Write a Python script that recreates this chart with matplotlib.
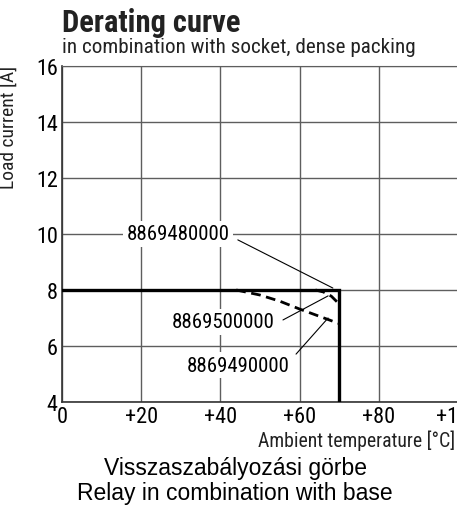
import matplotlib
matplotlib.use("Agg")
import matplotlib.pyplot as plt

# derating curve data
temp_solid = [0, 70, 70]
load_solid = [8, 8, 4]

temp_dash_a = [44, 50, 55, 60, 65, 70]
load_dash_a = [8.0, 7.82, 7.6, 7.32, 7.06, 6.8]

temp_dash_b = [64, 66, 68, 70]
load_dash_b = [8.0, 7.93, 7.78, 7.5]

x_ticks = [0, 20, 40, 60, 80, 100]
x_labels = ["0", "+20", "+40", "+60", "+80", "+100"]
y_ticks = [4, 6, 8, 10, 12, 14, 16]

labels = ["8869480000", "8869500000", "8869490000"]
label_xy = [(29.3, 10.0), (40.7, 6.86), (44.4, 5.32)]
line_start = [(44.4, 9.79), (55.8, 6.93), (59.1, 5.71)]
line_end = [(68.4, 8.07), (67.2, 7.79), (67.2, 7.0)]

narrow = dict(family=["Roboto Condensed", "DejaVu Sans"], stretch="condensed")
plain = ["Liberation Sans", "DejaVu Sans"]

W, H = 457, 510
fig = plt.figure(figsize=(W / 100, H / 100), dpi=100)
ax = fig.add_axes([62 / W, 1 - 403 / H, 396 / W, 336 / H])

ax.plot(temp_solid, load_solid, color="black", lw=2.4, solid_joinstyle="miter", zorder=4)
ax.plot(temp_dash_a, load_dash_a, color="black", lw=2.0, ls=(0, (3.5, 2)), zorder=3)
ax.plot(temp_dash_b, load_dash_b, color="black", lw=2.0, ls=(0, (3.5, 2)), zorder=3)

ax.set_xlim(0, 100)
ax.set_ylim(4, 16)
ax.set_xticks(x_ticks)
ax.set_xticklabels(x_labels, fontsize=16, **narrow)
ax.set_yticks(y_ticks)
ax.set_yticklabels([str(v) for v in y_ticks], fontsize=16, **narrow)
ax.tick_params(length=0, pad=3)
ax.grid(True, color="#5e5e5e", lw=1.0)
ax.set_axisbelow(True)
for s in ["left", "bottom"]:
    ax.spines[s].set_color("#333333")
    ax.spines[s].set_linewidth(1.2)
ax.spines["top"].set_color("#5e5e5e")
ax.spines["right"].set_visible(False)

# part numbers with leader lines
for txt, xy, p0, p1 in zip(labels, label_xy, line_start, line_end):
    ax.text(xy[0], xy[1], txt, ha="center", va="center", fontsize=15, zorder=5,
            bbox=dict(boxstyle="square,pad=0.15", fc="white", ec="none"), **narrow)
    ax.annotate("", xy=p1, xytext=p0, zorder=6,
                arrowprops=dict(arrowstyle="-", color="black", lw=0.8,
                                shrinkA=0, shrinkB=0))

fig.text(62 / W, 1 - 32 / H, "Derating curve", fontsize=22, fontweight="bold",
         ha="left", va="baseline", color="#222222", **narrow)
fig.text(62 / W, 1 - 53 / H, "in combination with socket, dense packing",
         fontsize=15.2, ha="left", va="baseline", color="#222222", **narrow)
fig.text(9 / W, 1 - 127 / H, "Load current [A]", rotation=90, fontsize=14,
         ha="center", va="center", color="#222222", **narrow)
fig.text(455 / W, 1 - 441 / H, "Ambient temperature [°C]", fontsize=14.2,
         ha="right", va="center", color="#222222", **narrow)
fig.text(235 / W, 1 - 475 / H, "Visszaszabályozási görbe", fontsize=16.5,
         family=plain, ha="center", va="baseline")
fig.text(235 / W, 1 - 500 / H, "Relay in combination with base", fontsize=16.5,
         family=plain, ha="center", va="baseline")

fig.savefig("out.png", dpi=100)
